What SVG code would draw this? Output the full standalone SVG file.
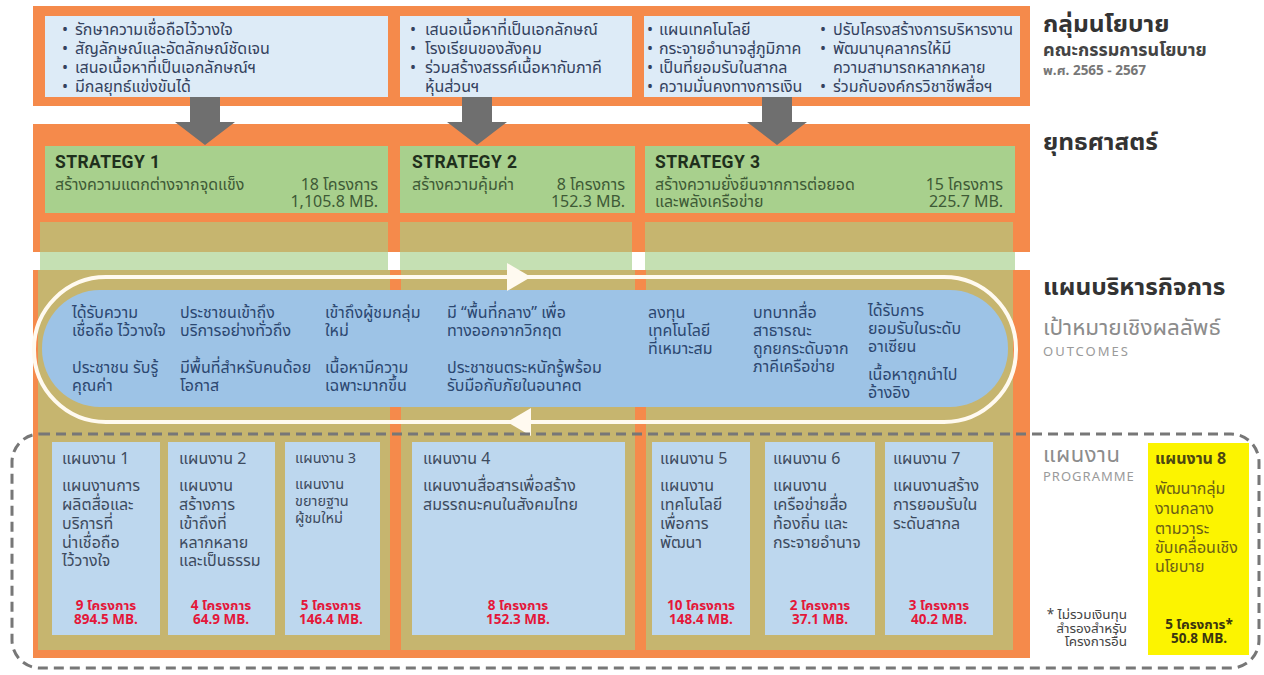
<svg xmlns="http://www.w3.org/2000/svg" width="1264" height="675" viewBox="0 0 1264 675">
<defs>
<style>
text{font-family:'Noto Sans Thai UI','Noto Sans Thai','Noto Sans','DejaVu Sans',sans-serif;}
.orange{fill:#f58a4b;}
.pol{fill:#ddebf7;}
.pt{font-size:16px;fill:#34425e;}
.green{fill:#a8d08d;}
.khaki{fill:#c6b56f;}
.lgreen{fill:#c5e0b3;}
.sh{font-family:Roboto,'Liberation Sans',sans-serif;font-weight:bold;font-size:17.5px;letter-spacing:0.4px;fill:#1f2f1c;}
.st{font-size:16px;fill:#3e5a36;}
.ot{font-size:16px;fill:#2c4770;}
.prog{fill:#bdd7ee;}
.pg{font-size:16px;fill:#3d4b5e;}
.pg3{font-size:14.5px;fill:#3d4b5e;}
.cnt{font-size:13.5px;font-weight:bold;fill:#e4173a;text-anchor:middle;}
.ttl{font-size:24.5px;font-weight:bold;fill:#333333;}
.sub{fill:#8c8c8c;}
.arr{fill:#6f6f6f;}
.wh{fill:#fffaf0;}
.y8{font-size:16px;fill:#6b5f16;}
.end{text-anchor:end;}
</style>
</defs>

<!-- backgrounds -->
<g id="bands">
<rect class="orange" x="33" y="6" width="997" height="100"/>
<rect class="orange" x="33" y="124" width="997" height="128"/>
<rect class="khaki" x="40" y="222" width="348" height="30"/>
<rect class="khaki" x="400" y="222" width="232" height="30"/>
<rect class="khaki" x="645" y="222" width="368" height="30"/>
<rect class="lgreen" x="40" y="252" width="348" height="18"/>
<rect class="lgreen" x="400" y="252" width="232" height="18"/>
<rect class="lgreen" x="645" y="252" width="370" height="18"/>
<rect class="orange" x="33" y="270" width="997" height="388"/>
<rect class="khaki" x="38" y="270" width="975" height="380"/>
<rect class="orange" x="390" y="270" width="11" height="388"/>
<rect class="orange" x="635" y="270" width="11" height="388"/>
</g>

<!-- policy -->
<g id="policy-1">
<rect class="pol" x="45" y="16" width="343" height="81"/>
<text class="pt" x="62" y="35">•<tspan x="62" dy="19">•</tspan><tspan x="62" dy="19">•</tspan><tspan x="62" dy="19">•</tspan></text>
<text class="pt" x="75" y="35">รักษาความเชื่อถือไว้วางใจ<tspan x="75" dy="19">สัญลักษณ์และอัตลักษณ์ชัดเจน</tspan><tspan x="75" dy="19">เสนอเนื้อหาที่เป็นเอกลักษณ์ฯ</tspan><tspan x="75" dy="19">มีกลยุทธ์แข่งขันได้</tspan></text>
</g>
<g id="policy-2">
<rect class="pol" x="400" y="16" width="232" height="81"/>
<text class="pt" x="410" y="35">•<tspan x="410" dy="19">•</tspan><tspan x="410" dy="19">•</tspan></text>
<text class="pt" x="425" y="35">เสนอเนื้อหาที่เป็นเอกลักษณ์<tspan x="425" dy="19">โรงเรียนของสังคม</tspan><tspan x="425" dy="19">ร่วมสร้างสรรค์เนื้อหากับภาคี</tspan><tspan x="425" dy="19">หุ้นส่วนฯ</tspan></text>
</g>
<g id="policy-3">
<rect class="pol" x="644" y="16" width="376" height="81"/>
<text class="pt" x="647" y="35">•<tspan x="647" dy="19">•</tspan><tspan x="647" dy="19">•</tspan><tspan x="647" dy="19">•</tspan></text>
<text class="pt" x="659" y="35">แผนเทคโนโลยี<tspan x="659" dy="19">กระจายอำนาจสู่ภูมิภาค</tspan><tspan x="659" dy="19">เป็นที่ยอมรับในสากล</tspan><tspan x="659" dy="19">ความมั่นคงทางการเงิน</tspan></text>
<text class="pt" x="820" y="35">•<tspan x="820" dy="19">•</tspan><tspan x="820" dy="38">•</tspan></text>
<text class="pt" x="833" y="35">ปรับโครงสร้างการบริหารงาน<tspan x="833" dy="19">พัฒนาบุคลากรให้มี</tspan><tspan x="833" dy="19">ความสามารถหลากหลาย</tspan><tspan x="833" dy="19">ร่วมกับองค์กรวิชาชีพสื่อฯ</tspan></text>
</g>

<!-- strategies -->
<g id="strategy-1">
<rect class="green" x="45" y="146" width="343" height="67"/>
<text x="55" y="168"><tspan class="sh">STRATEGY 1</tspan><tspan class="st" x="55" dy="22">สร้างความแตกต่างจากจุดแข็ง</tspan></text>
<text class="st end" x="378" y="190">18 โครงการ<tspan x="378" dy="17">1,105.8 MB.</tspan></text>
</g>
<g id="strategy-2">
<rect class="green" x="400" y="146" width="235" height="67"/>
<text x="412" y="168"><tspan class="sh">STRATEGY 2</tspan><tspan class="st" x="412" dy="22">สร้างความคุ้มค่า</tspan></text>
<text class="st end" x="625" y="190">8 โครงการ<tspan x="625" dy="17">152.3 MB.</tspan></text>
</g>
<g id="strategy-3">
<rect class="green" x="645" y="146" width="370" height="67"/>
<text x="655" y="168"><tspan class="sh">STRATEGY 3</tspan><tspan class="st" x="655" dy="22">สร้างความยั่งยืนจากการต่อยอด</tspan><tspan class="st" x="655" dy="17">และพลังเครือข่าย</tspan></text>
<text class="st end" x="1003" y="190">15 โครงการ<tspan x="1003" dy="17">225.7 MB.</tspan></text>
</g>

<!-- outcomes -->
<g id="outcomes">
<rect x="42" y="290" width="966" height="117" rx="58" fill="#9dc3e6"/>
<text class="ot" x="72" y="318">ได้รับความ<tspan x="72" dy="18">เชื่อถือ ไว้วางใจ</tspan></text>
<text class="ot" x="72" y="373">ประชาชน รับรู้<tspan x="72" dy="18">คุณค่า</tspan></text>
<text class="ot" x="180" y="318">ประชาชนเข้าถึง<tspan x="180" dy="18">บริการอย่างทั่วถึง</tspan></text>
<text class="ot" x="180" y="373">มีพื้นที่สำหรับคนด้อย<tspan x="180" dy="18">โอกาส</tspan></text>
<text class="ot" x="325" y="318">เข้าถึงผู้ชมกลุ่ม<tspan x="325" dy="18">ใหม่</tspan></text>
<text class="ot" x="325" y="373">เนื้อหามีความ<tspan x="325" dy="18">เฉพาะมากขึ้น</tspan></text>
<text class="ot" x="447" y="318">มี “พื้นที่กลาง” เพื่อ<tspan x="447" dy="18">ทางออกจากวิกฤต</tspan></text>
<text class="ot" x="447" y="373">ประชาชนตระหนักรู้พร้อม<tspan x="447" dy="18">รับมือกับภัยในอนาคต</tspan></text>
<text class="ot" x="648" y="318">ลงทุน<tspan x="648" dy="18">เทคโนโลยี</tspan><tspan x="648" dy="18">ที่เหมาะสม</tspan></text>
<text class="ot" x="753" y="318">บทบาทสื่อ<tspan x="753" dy="18">สาธารณะ</tspan><tspan x="753" dy="18">ถูกยกระดับจาก</tspan><tspan x="753" dy="18">ภาคีเครือข่าย</tspan></text>
<text class="ot" x="868" y="316">ได้รับการ<tspan x="868" dy="18">ยอมรับในระดับ</tspan><tspan x="868" dy="18">อาเซียน</tspan></text>
<text class="ot" x="868" y="380">เนื้อหาถูกนำไป<tspan x="868" dy="18">อ้างอิง</tspan></text>
</g>

<!-- programmes -->
<g id="programme-1">
<rect class="prog" x="52" y="442" width="108" height="193"/>
<text class="pg" x="62" y="464">แผนงาน 1<tspan x="62" dy="27">แผนงานการ</tspan><tspan x="62" dy="19">ผลิตสื่อและ</tspan><tspan x="62" dy="19">บริการที่</tspan><tspan x="62" dy="19">น่าเชื่อถือ</tspan><tspan x="62" dy="18">ไว้วางใจ</tspan></text>
<text class="cnt" x="106" y="610">9 โครงการ<tspan x="106" dy="14">894.5 MB.</tspan></text>
</g>
<g id="programme-2">
<rect class="prog" x="168" y="442" width="107" height="193"/>
<text class="pg" x="179" y="464">แผนงาน 2<tspan x="179" dy="27">แผนงาน</tspan><tspan x="179" dy="19">สร้างการ</tspan><tspan x="179" dy="19">เข้าถึงที่</tspan><tspan x="179" dy="19">หลากหลาย</tspan><tspan x="179" dy="18">และเป็นธรรม</tspan></text>
<text class="cnt" x="221" y="610">4 โครงการ<tspan x="221" dy="14">64.9 MB.</tspan></text>
</g>
<g id="programme-3">
<rect class="prog" x="285" y="442" width="95" height="193"/>
<text class="pg3" x="295" y="463">แผนงาน 3<tspan x="295" dy="26">แผนงาน</tspan><tspan x="295" dy="17">ขยายฐาน</tspan><tspan x="295" dy="17">ผู้ชมใหม่</tspan></text>
<text class="cnt" x="331" y="610">5 โครงการ<tspan x="331" dy="14">146.4 MB.</tspan></text>
</g>
<g id="programme-4">
<rect class="prog" x="412" y="442" width="213" height="193"/>
<text class="pg" x="423" y="464">แผนงาน 4<tspan x="423" dy="27">แผนงานสื่อสารเพื่อสร้าง</tspan><tspan x="423" dy="19">สมรรถนะคนในสังคมไทย</tspan></text>
<text class="cnt" x="518" y="610">8 โครงการ<tspan x="518" dy="14">152.3 MB.</tspan></text>
</g>
<g id="programme-5">
<rect class="prog" x="652" y="442" width="98" height="193"/>
<text class="pg" x="660" y="464">แผนงาน 5<tspan x="660" dy="27">แผนงาน</tspan><tspan x="660" dy="19">เทคโนโลยี</tspan><tspan x="660" dy="19">เพื่อการ</tspan><tspan x="660" dy="19">พัฒนา</tspan></text>
<text class="cnt" x="701" y="610">10 โครงการ<tspan x="701" dy="14">148.4 MB.</tspan></text>
</g>
<g id="programme-6">
<rect class="prog" x="765" y="442" width="110" height="193"/>
<text class="pg" x="773" y="464">แผนงาน 6<tspan x="773" dy="27">แผนงาน</tspan><tspan x="773" dy="19">เครือข่ายสื่อ</tspan><tspan x="773" dy="19">ท้องถิ่น และ</tspan><tspan x="773" dy="19">กระจายอำนาจ</tspan></text>
<text class="cnt" x="820" y="610">2 โครงการ<tspan x="820" dy="14">37.1 MB.</tspan></text>
</g>
<g id="programme-7">
<rect class="prog" x="885" y="442" width="108" height="193"/>
<text class="pg" x="893" y="464">แผนงาน 7<tspan x="893" dy="27">แผนงานสร้าง</tspan><tspan x="893" dy="19">การยอมรับใน</tspan><tspan x="893" dy="19">ระดับสากล</tspan></text>
<text class="cnt" x="939" y="610">3 โครงการ<tspan x="939" dy="14">40.2 MB.</tspan></text>
</g>
<g id="programme-8">
<rect x="1148" y="443" width="101" height="212" fill="#fcf400"/>
<text class="y8" x="1155" y="464"><tspan font-weight="bold" fill="#4d4712">แผนงาน 8</tspan><tspan x="1155" dy="30">พัฒนากลุ่ม</tspan><tspan x="1155" dy="20">งานกลาง</tspan><tspan x="1155" dy="20">ตามวาระ</tspan><tspan x="1155" dy="19">ขับเคลื่อนเชิง</tspan><tspan x="1155" dy="19">นโยบาย</tspan></text>
<text x="1199" y="629" font-size="13.5" font-weight="bold" fill="#3a3510" text-anchor="middle">5 โครงการ*<tspan x="1199" dy="14">50.8 MB.</tspan></text>
</g>
<g id="footnote">
<text x="1127" y="619" font-size="13.5" fill="#444" text-anchor="end">* ไม่รวมเงินทุน<tspan x="1127" dy="14">สำรองสำหรับ</tspan><tspan x="1127" dy="13">โครงการอื่น</tspan></text>
</g>

<!-- right labels -->
<g id="labels">
<text x="1043" y="32"><tspan class="ttl">กลุ่มนโยบาย</tspan><tspan x="1043" dy="24" font-size="18" font-weight="bold" fill="#444">คณะกรรมการนโยบาย</tspan><tspan x="1043" dy="19" font-size="13.5" font-weight="bold" fill="#777">พ.ศ. 2565 - 2567</tspan></text>
<text class="ttl" x="1043" y="150">ยุทธศาสตร์</text>
<text class="ttl" x="1043" y="295">แผนบริหารกิจการ</text>
<text class="sub" x="1043" y="335"><tspan font-size="22.5">เป้าหมายเชิงผลลัพธ์</tspan><tspan x="1043" dy="21" font-size="13" letter-spacing="2" fill="#9a9a9a">OUTCOMES</tspan></text>
<text class="sub" x="1043" y="462"><tspan font-size="22" letter-spacing="0.5">แผนงาน</tspan><tspan x="1043" dy="19" font-size="13" letter-spacing="1" fill="#9a9a9a">PROGRAMME</tspan></text>
</g>

<!-- connectors -->
<g id="connectors">
<polygon class="arr" points="190,97 220,97 220,122 235,122 205,145 175,122 190,122"/>
<polygon class="arr" points="462,97 492,97 492,122 507,122 477,145 447,122 462,122"/>
<polygon class="arr" points="762,97 792,97 792,122 807,122 777,145 747,122 762,122"/>
<rect x="34" y="277" width="982" height="145" rx="72" fill="none" stroke="#fffaf0" stroke-width="4"/>
<polygon class="wh" points="507,263 531,277 507,291"/>
<polygon class="wh" points="531,408 507,422 531,436"/>
<rect x="12" y="434" width="1247" height="234" rx="28" fill="none" stroke="#777" stroke-width="3" stroke-dasharray="10 6"/>
</g>
</svg>
